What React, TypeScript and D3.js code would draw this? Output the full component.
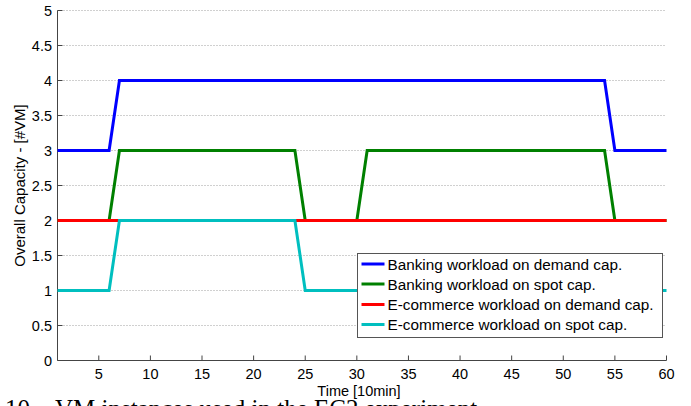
import React from "react";
import * as d3 from "d3";

// Time steps (units of 10 min) and VM counts per series
const timeSteps: number[] = d3.range(1, 61);

const bankingDemand: number[] = [
  3, 3, 3, 3, 3, 3, 4, 4, 4, 4, 4, 4, 4, 4, 4, 4, 4, 4, 4, 4,
  4, 4, 4, 4, 4, 4, 4, 4, 4, 4, 4, 4, 4, 4, 4, 4, 4, 4, 4, 4,
  4, 4, 4, 4, 4, 4, 4, 4, 4, 4, 4, 4, 4, 4, 3, 3, 3, 3, 3, 3,
];
const bankingSpot: number[] = [
  2, 2, 2, 2, 2, 2, 3, 3, 3, 3, 3, 3, 3, 3, 3, 3, 3, 3, 3, 3,
  3, 3, 3, 3, 2, 2, 2, 2, 2, 2, 3, 3, 3, 3, 3, 3, 3, 3, 3, 3,
  3, 3, 3, 3, 3, 3, 3, 3, 3, 3, 3, 3, 3, 3, 2, 2, 2, 2, 2, 2,
];
const ecommerceDemand: number[] = [
  2, 2, 2, 2, 2, 2, 2, 2, 2, 2, 2, 2, 2, 2, 2, 2, 2, 2, 2, 2,
  2, 2, 2, 2, 2, 2, 2, 2, 2, 2, 2, 2, 2, 2, 2, 2, 2, 2, 2, 2,
  2, 2, 2, 2, 2, 2, 2, 2, 2, 2, 2, 2, 2, 2, 2, 2, 2, 2, 2, 2,
];
const ecommerceSpot: number[] = [
  1, 1, 1, 1, 1, 1, 2, 2, 2, 2, 2, 2, 2, 2, 2, 2, 2, 2, 2, 2,
  2, 2, 2, 2, 1, 1, 1, 1, 1, 1, 1, 1, 1, 1, 1, 1, 1, 1, 1, 1,
  1, 1, 1, 1, 1, 1, 1, 1, 1, 1, 1, 1, 1, 1, 1, 1, 1, 1, 1, 1,
];

const seriesNames: string[] = [
  "Banking workload on demand cap.",
  "Banking workload on spot cap.",
  "E-commerce workload on demand cap.",
  "E-commerce workload on spot cap.",
];
const seriesColors: string[] = ["#0000ff", "#008000", "#ff0000", "#00bfbf"];
const seriesValues: number[][] = [bankingDemand, bankingSpot, ecommerceDemand, ecommerceSpot];

const xTicks: number[] = [5, 10, 15, 20, 25, 30, 35, 40, 45, 50, 55, 60];
const yTicks: number[] = [0, 0.5, 1, 1.5, 2, 2.5, 3, 3.5, 4, 4.5, 5];

const W = 691;
const H = 406;
const FONT = "'Liberation Sans', Arial, Helvetica, sans-serif";
const SERIF = "'Liberation Serif', 'Times New Roman', serif";

export default function App() {
  const x = d3.scaleLinear().domain([1, 60]).range([57.5, 666.5]);
  const y = d3.scaleLinear().domain([0, 5]).range([360.5, 10.5]);
  const line = d3
    .line<number>()
    .x((_, i) => x(timeSteps[i]))
    .y((d) => y(d));

  const axisColor = "#444";
  const legend = { x: 357.5, y: 253.5, w: 305, h: 84, rowY: [264, 284, 304.5, 324.5] };

  return (
    <svg
      width={W}
      height={H}
      style={{ position: "absolute", left: 0, top: 0, background: "#fff" }}
      xmlns="http://www.w3.org/2000/svg"
    >
      <rect x={0} y={0} width={W} height={H} fill="#fff" />
      {/* horizontal dotted grid */}
      {yTicks.filter((t) => t > 0).map((t) => (
        <line
          key={"g" + t}
          x1={x(1)}
          x2={x(60)}
          y1={y(t)}
          y2={y(t)}
          stroke="#a0a0a0"
          strokeWidth={1}
          strokeDasharray="1,2"
        />
      ))}
      {/* axes */}
      <line x1={x(1)} x2={x(60)} y1={y(0)} y2={y(0)} stroke={axisColor} strokeWidth={1} />
      <line x1={x(1)} x2={x(1)} y1={y(0)} y2={y(5)} stroke={axisColor} strokeWidth={1} />
      {xTicks.map((t) => (
        <g key={"x" + t}>
          <line x1={x(t)} x2={x(t)} y1={y(0)} y2={y(0) - 5} stroke={axisColor} strokeWidth={1} />
          <text
            x={x(t)}
            y={379}
            fontSize={14.5}
            fontFamily={FONT}
            textAnchor="middle"
            fill="#000"
          >
            {t}
          </text>
        </g>
      ))}
      {yTicks.map((t) => (
        <g key={"y" + t}>
          <line x1={x(1)} x2={x(1) + 5} y1={y(t)} y2={y(t)} stroke={axisColor} strokeWidth={1} />
          <text
            x={52}
            y={y(t) + 5.5}
            fontSize={14.5}
            fontFamily={FONT}
            textAnchor="end"
            fill="#000"
          >
            {t}
          </text>
        </g>
      ))}
      {/* series */}
      {seriesValues.map((vals, i) => (
        <path
          key={"s" + i}
          d={line(vals) || ""}
          fill="none"
          stroke={seriesColors[i]}
          strokeWidth={3}
          strokeLinejoin="miter"
        />
      ))}
      {/* axis titles */}
      <text
        x={359}
        y={396}
        fontSize={14.5}
        fontFamily={FONT}
        textAnchor="middle"
        fill="#000"
      >
        Time [10min]
      </text>
      <text
        transform={`translate(24.5,${y(2.5)}) rotate(-90)`}
        fontSize={15}
        fontFamily={FONT}
        textAnchor="middle"
        fill="#000"
      >
        Overall Capacity - [#VM]
      </text>
      {/* legend */}
      <rect
        x={legend.x}
        y={legend.y}
        width={legend.w}
        height={legend.h}
        fill="#fff"
        stroke="#555"
        strokeWidth={1}
      />
      {seriesNames.map((name, i) => (
        <g key={"l" + i}>
          <line
            x1={legend.x + 4}
            x2={legend.x + 27}
            y1={legend.rowY[i]}
            y2={legend.rowY[i]}
            stroke={seriesColors[i]}
            strokeWidth={3}
          />
          <text
            x={legend.x + 30}
            y={legend.rowY[i] + 5.5}
            fontSize={15.3}
            fontFamily={FONT}
            fill="#000"
          >
            {name}
          </text>
        </g>
      ))}
      {/* figure caption */}
      <text x={5} y={417} fontSize={25} fontFamily={SERIF} fill="#000">
        10.
      </text>
      <text x={55} y={417} fontSize={25} fontFamily={SERIF} fill="#000">
        VM instances used in the EC2 experiment
      </text>
    </svg>
  );
}
